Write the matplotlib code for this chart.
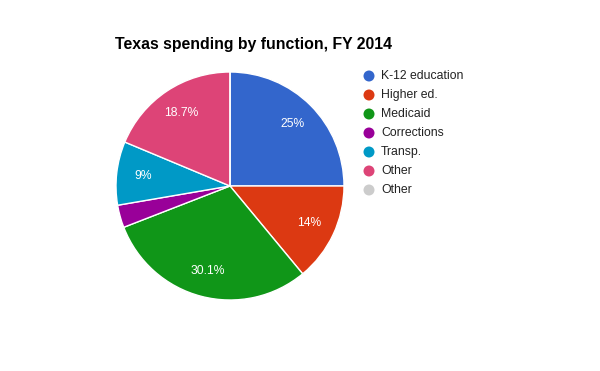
import matplotlib
matplotlib.use("Agg")
import matplotlib.pyplot as plt
from matplotlib.patches import Circle
import numpy as np

categories = ["K-12 education", "Higher ed.", "Medicaid", "Corrections", "Transp.", "Other", "Other"]
values = [25.0, 14.0, 30.1, 3.2, 9.0, 18.7, 0.0]
pct_labels = ["25%", "14%", "30.1%", "", "9%", "18.7%", ""]
colors = ["#3366cc", "#dc3912", "#109618", "#990099", "#0099c6", "#dd4477", "#cccccc"]
title = "Texas spending by function, FY 2014"

W, H = 600, 371
fig = plt.figure(figsize=(W / 100, H / 100), dpi=100)
fig.patch.set_facecolor("white")

cx, cy, r = 230, 186, 114
ax = fig.add_axes([(cx - r) / W, (H - cy - r) / H, 2 * r / W, 2 * r / H])
wedges, _ = ax.pie(values, colors=colors, startangle=90, counterclock=False,
                   radius=1.0, wedgeprops=dict(edgecolor="white", linewidth=1))
total = sum(values)
cum = 0
for v, lab in zip(values, pct_labels):
    mid = 90 - (cum + v / 2) / total * 360
    cum += v
    if lab:
        ax.text(0.77 * np.cos(np.radians(mid)), 0.77 * np.sin(np.radians(mid)), lab,
                ha="center", va="center", color="white", fontsize=8.7,
                family="Liberation Sans")
ax.set_xlim(-1, 1)
ax.set_ylim(-1, 1)
ax.set_aspect("auto")
ax.axis("off")

fig.text(115 / W, 1 - 45 / H, title, fontsize=11.4, fontweight="bold",
         family="Liberation Sans", ha="left", va="center", color="black")

for i, (lab, col) in enumerate(zip(categories, colors)):
    y = 76 + 19 * i
    fig.patches.append(Circle((369, H - y), 5.5, transform=None, facecolor=col,
                              edgecolor="none", figure=fig))
    fig.text(381 / W, 1 - y / H, lab, fontsize=8.8, family="Liberation Sans",
             ha="left", va="center", color="#222222")

fig.savefig("out.png", dpi=100)
